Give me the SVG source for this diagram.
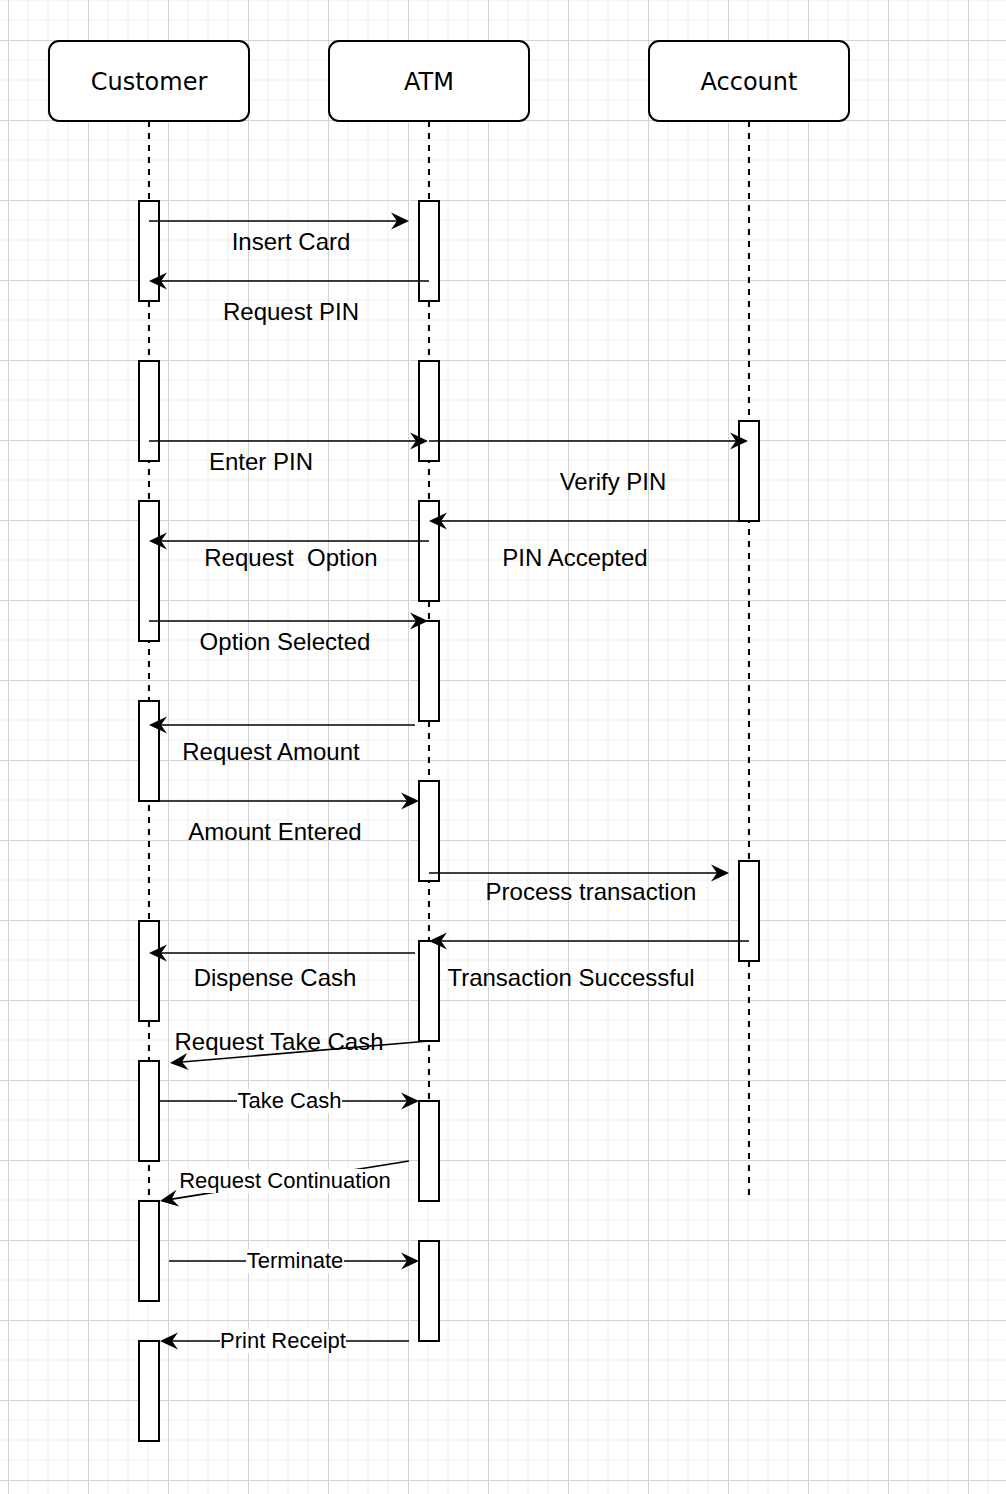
<svg xmlns="http://www.w3.org/2000/svg" width="1006" height="1494" viewBox="0 0 1006 1494">
<style>
.hdr{fill:#fff;stroke:#000;stroke-width:2}
.htxt{font-family:"DejaVu Sans",Verdana,sans-serif;font-size:24px;fill:#000;text-anchor:middle}
.life{stroke:#000;stroke-width:2;stroke-dasharray:6 6;fill:none}
.bar{fill:#fff;stroke:#000;stroke-width:2}
.msg{stroke:#000;stroke-width:1.6;fill:none;marker-end:url(#ah)}
.lbl{font-family:"Liberation Sans",Arial,sans-serif;font-size:24px;fill:#000;text-anchor:middle}
.elbl{font-family:"Liberation Sans",Arial,sans-serif;font-size:22px;fill:#000;text-anchor:middle}
.lbg{fill:#fff;stroke:none}
</style>
<defs>
<pattern id="grid" x="8" y="40" width="80" height="80" patternUnits="userSpaceOnUse">
<path d="M20,0V80M40,0V80M60,0V80M0,20H80M0,40H80M0,60H80" stroke="#eeeeee" stroke-width="1" fill="none"/>
<path d="M0.5,0V80M0,0.5H80" stroke="#d3d3d3" stroke-width="1" fill="none"/>
</pattern>
<marker id="ah" viewBox="-7 -10 20 20" refX="0" refY="0" markerWidth="20" markerHeight="20" markerUnits="userSpaceOnUse" orient="auto">
<path d="M12,0 L-6,-8.5 L0,0 L-6,8.5 Z" fill="#000"/>
</marker>
</defs>
<rect x="0" y="0" width="1006" height="1494" fill="#fff"/>
<rect x="0" y="0" width="1006" height="1494" fill="url(#grid)"/>

<g id="customer">
<line class="life" x1="149" y1="121" x2="149" y2="1205"/>
<rect class="hdr" x="49" y="41" width="200" height="80" rx="10"/>
<text class="htxt" x="149" y="90">Customer</text>
<rect class="bar" x="139" y="201" width="20" height="100"/>
<rect class="bar" x="139" y="361" width="20" height="100"/>
<rect class="bar" x="139" y="501" width="20" height="140"/>
<rect class="bar" x="139" y="701" width="20" height="100"/>
<rect class="bar" x="139" y="921" width="20" height="100"/>
<rect class="bar" x="139" y="1061" width="20" height="100"/>
<rect class="bar" x="139" y="1201" width="20" height="100"/>
<rect class="bar" x="139" y="1341" width="20" height="100"/>
</g>

<g id="atm">
<line class="life" x1="429" y1="121" x2="429" y2="1105"/>
<rect class="hdr" x="329" y="41" width="200" height="80" rx="10"/>
<text class="htxt" x="429" y="90">ATM</text>
<rect class="bar" x="419" y="201" width="20" height="100"/>
<rect class="bar" x="419" y="361" width="20" height="100"/>
<rect class="bar" x="419" y="501" width="20" height="100"/>
<rect class="bar" x="419" y="621" width="20" height="100"/>
<rect class="bar" x="419" y="781" width="20" height="100"/>
<rect class="bar" x="419" y="941" width="20" height="100"/>
<rect class="bar" x="419" y="1101" width="20" height="100"/>
<rect class="bar" x="419" y="1241" width="20" height="100"/>
</g>

<g id="account">
<line class="life" x1="749" y1="121" x2="749" y2="1195"/>
<rect class="hdr" x="649" y="41" width="200" height="80" rx="10"/>
<text class="htxt" x="749" y="90">Account</text>
<rect class="bar" x="739" y="421" width="20" height="100"/>
<rect class="bar" x="739" y="861" width="20" height="100"/>
</g>

<g id="connectors">
<path class="msg" d="M149,221H397"/>
<path class="msg" d="M429,281H161"/>
<path class="msg" d="M149,441H416"/>
<path class="msg" d="M429,441H736"/>
<path class="msg" d="M749,521H441"/>
<path class="msg" d="M429,541H161"/>
<path class="msg" d="M149,621H416"/>
<path class="msg" d="M415,725H161"/>
<path class="msg" d="M159,801H407"/>
<path class="msg" d="M429,873H717"/>
<path class="msg" d="M749,941H441"/>
<path class="msg" d="M415,953H161"/>
<path class="msg" d="M429,1041L181.96,1061.98"/>
<path class="msg" d="M159,1101H407"/>
<path class="msg" d="M409,1161L171.85,1199.1"/>
<path class="msg" d="M169,1261H407"/>
<path class="msg" d="M409,1341H172"/>
</g>

<g id="labels">
<text class="lbl" x="291" y="250">Insert Card</text>
<text class="lbl" x="291" y="320">Request PIN</text>
<text class="lbl" x="261" y="470">Enter PIN</text>
<text class="lbl" x="613" y="490">Verify PIN</text>
<text class="lbl" x="575" y="566">PIN Accepted</text>
<text class="lbl" x="291" y="566" xml:space="preserve" style="white-space:pre">Request  Option</text>
<text class="lbl" x="285" y="650">Option Selected</text>
<text class="lbl" x="271" y="760">Request Amount</text>
<text class="lbl" x="275" y="840">Amount Entered</text>
<text class="lbl" x="591" y="900">Process transaction</text>
<text class="lbl" x="571" y="986">Transaction Successful</text>
<text class="lbl" x="275" y="986">Dispense Cash</text>
<text class="lbl" x="279" y="1050">Request Take Cash</text>
<rect class="lbg" x="237" y="1089" width="105" height="24"/>
<text class="elbl" x="289.5" y="1108">Take Cash</text>
<rect class="lbg" x="179" y="1169" width="212" height="24"/>
<text class="elbl" x="285" y="1188">Request Continuation</text>
<rect class="lbg" x="246" y="1249" width="98" height="24"/>
<text class="elbl" x="295" y="1268">Terminate</text>
<rect class="lbg" x="220" y="1329" width="126" height="24"/>
<text class="elbl" x="283" y="1348">Print Receipt</text>
</g>
</svg>
